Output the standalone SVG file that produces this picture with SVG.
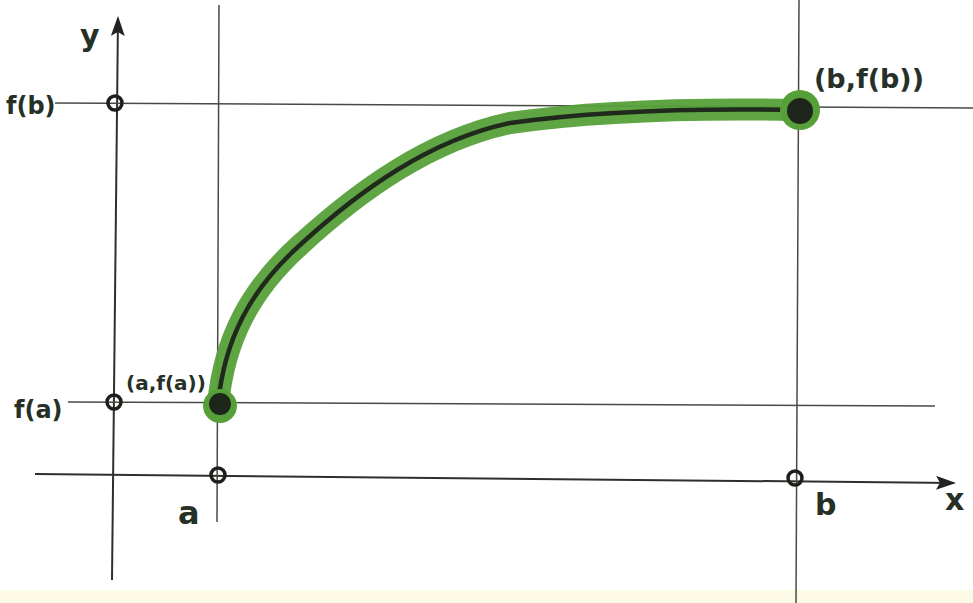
<svg xmlns="http://www.w3.org/2000/svg" width="973" height="603" viewBox="0 0 973 603">
<defs>
<style>
.grid{stroke:#4a4a44;stroke-width:1.5;fill:none}
.axis{stroke:#2e2e2a;stroke-width:2;fill:none}
.tick{stroke:#1e1e1c;stroke-width:3.5;fill:none}
.lbl{font-family:"DejaVu Sans","Liberation Sans",sans-serif;fill:#263026;font-weight:bold}
</style>
<marker id="arr" viewBox="0 0 20 14" refX="18" refY="7" markerWidth="20" markerHeight="14" markerUnits="userSpaceOnUse" orient="auto">
<path d="M0,0 L20,7 L0,14 L4,7 Z" fill="#222220"/>
</marker>
</defs>
<rect width="973" height="603" fill="#ffffff"/>
<rect x="0" y="590" width="973" height="13" fill="#fdfbe6"/>
<g id="connectors">
<line class="axis" x1="112" y1="580" x2="118" y2="18" marker-end="url(#arr)"/>
<line class="axis" x1="35" y1="474" x2="954" y2="483" marker-end="url(#arr)"/>
<line class="grid" x1="219" y1="5" x2="217" y2="522"/>
<line class="grid" x1="799" y1="0" x2="796" y2="603"/>
<line class="grid" x1="55" y1="103" x2="973" y2="108"/>
<line class="grid" x1="68" y1="402" x2="935" y2="406"/>
</g>
<g id="curve">
<path d="M218,405 C224,340 250,290 300,245 C360,190 430,140 510,123 C600,110 700,108 800,110" stroke="#56a03a" stroke-width="22" fill="none" stroke-linecap="round" opacity="0.95"/>
<path d="M218,405 C224,340 250,290 300,245 C360,190 430,140 510,123 C600,110 700,108 800,110" stroke="#1f2a1c" stroke-width="4.5" fill="none" stroke-linecap="round"/>
</g>
<g id="point-a">
<circle cx="220" cy="406" r="17" fill="#56a03a"/>
<circle cx="220" cy="404" r="11" fill="#1e261c"/>
<text class="lbl" x="126" y="390" font-size="20">(a,f(a))</text>
</g>
<g id="point-b">
<circle cx="800" cy="110" r="20" fill="#56a03a"/>
<circle cx="800" cy="111" r="13" fill="#1e261c"/>
<text class="lbl" x="814" y="88" font-size="27">(b,f(b))</text>
</g>
<g id="tick-fb">
<circle class="tick" cx="115" cy="103" r="7"/>
<text class="lbl" x="6" y="114" font-size="24">f(b)</text>
</g>
<g id="tick-fa">
<circle class="tick" cx="114" cy="402" r="7"/>
<text class="lbl" x="14" y="418" font-size="24">f(a)</text>
</g>
<g id="tick-a">
<circle class="tick" cx="218" cy="475" r="7"/>
<text class="lbl" x="178" y="524" font-size="32">a</text>
</g>
<g id="tick-b">
<circle class="tick" cx="795" cy="478" r="7"/>
<text class="lbl" x="815" y="515" font-size="30">b</text>
</g>
<g id="label-y">
<text class="lbl" x="80" y="46" font-size="30">y</text>
</g>
<g id="label-x">
<text class="lbl" x="945" y="510" font-size="30">x</text>
</g>
</svg>
